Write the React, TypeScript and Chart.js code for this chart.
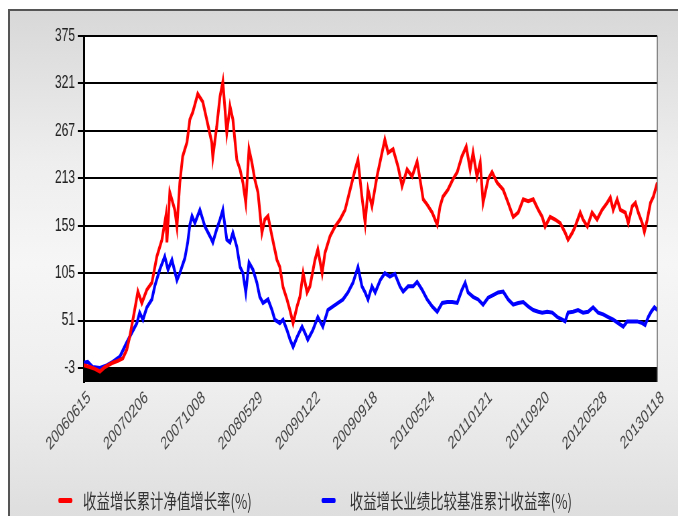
import React, { useEffect, useRef } from "react";
import { Chart, registerables } from "chart.js";

Chart.register(...registerables);

const xLabels = [
  "20060615", "20070206", "20071008", "20080529", "20090122", "20090918",
  "20100524", "20110121", "20110920", "20120528", "20130118",
];
const labelStep = 160; // trading days between two x labels
const yTicks = [-3, 51, 105, 159, 213, 267, 321, 375];
const seriesNames = ["收益增长累计净值增长率(%)", "收益增长业绩比较基准累计收益率(%)"];
const seriesColors = ["#ff0000", "#0000ff"];

const redDays = [
  0, 17, 31, 45, 59, 81, 95, 109, 120, 128,
  142, 151, 162, 176, 190, 204, 218, 229, 232, 240,
  254, 260, 268, 276, 288, 296, 304, 318, 332, 343,
  357, 360, 371, 380, 388, 399, 408, 416, 427, 436,
  444, 452, 461, 469, 477, 486, 497, 505, 514, 525,
  539, 547, 556, 567, 575, 584, 595, 603, 612, 623,
  631, 645, 653, 665, 673, 687, 701, 715, 729, 743,
  757, 765, 776, 785, 793, 804, 818, 832, 840, 849,
  863, 877, 888, 902, 916, 930, 938, 947, 958, 972,
  986, 994, 1002, 1016, 1030, 1042, 1055, 1067, 1078, 1086,
  1097, 1106, 1114, 1128, 1139, 1153, 1170, 1184, 1198, 1212,
  1226, 1240, 1254, 1268, 1279, 1287, 1301, 1315, 1329, 1343,
  1351, 1363, 1371, 1385, 1393, 1405, 1418, 1432, 1446, 1460,
  1469, 1477, 1488, 1497, 1511, 1519, 1530, 1539, 1547, 1558,
  1564, 1572, 1581, 1589, 1600,
];
const redValues = [
  0, -2, -4, -7, -2, 3, 5, 8, 18, 32,
  63, 84, 71, 86, 94, 124, 143, 170, 140, 197,
  177, 158, 208, 238, 254, 280, 288, 309, 300, 280,
  254, 237, 272, 306, 323, 265, 295, 280, 234, 223,
  208, 185, 246, 231, 212, 197, 151, 166, 170, 147,
  120, 112, 89, 75, 63, 48, 67, 78, 105, 83,
  90, 120, 132, 105, 128, 147, 158, 166, 177, 200,
  223, 234, 192, 162, 200, 181, 215, 242, 257, 242,
  246, 226, 204, 223, 215, 232, 212, 189, 183, 174,
  160, 181, 192, 200, 212, 220, 238, 249, 223, 242,
  215, 231, 185, 212, 220, 208, 200, 185, 169, 174,
  189, 187, 189, 177, 169, 158, 169, 166, 162, 151,
  143, 151, 158, 174, 166, 158, 174, 166, 177, 185,
  191, 177, 189, 177, 174, 162, 181, 185, 174, 162,
  152, 166, 185, 192, 208,
];

const blueDays = [
  0, 11, 25, 45, 64, 81, 101, 120, 134, 148,
  156, 165, 176, 190, 198, 212, 226, 235, 246, 260,
  268, 282, 290, 296, 302, 310, 324, 338, 352, 360,
  371, 380, 388, 399, 408, 416, 427, 436, 444, 452,
  461, 472, 483, 491, 500, 514, 525, 533, 547, 556,
  567, 575, 584, 595, 609, 617, 625, 639, 653, 667,
  681, 695, 709, 723, 737, 751, 765, 776, 785, 793,
  804, 813, 827, 840, 854, 868, 882, 891, 905, 919,
  930, 944, 958, 972, 986, 1000, 1014, 1028, 1042, 1055,
  1064, 1072, 1086, 1100, 1114, 1128, 1142, 1156, 1170, 1184,
  1198, 1212, 1226, 1240, 1254, 1268, 1279, 1293, 1307, 1321,
  1335, 1343, 1351, 1365, 1379, 1393, 1407, 1421, 1435, 1449,
  1463, 1477, 1491, 1505, 1516, 1530, 1544, 1558, 1566, 1575,
  1583, 1592, 1600,
];
const blueValues = [
  3, 4, -2, -3, 0, 4, 10, 26, 37, 48,
  60, 52, 66, 75, 90, 109, 124, 109, 120, 97,
  105, 122, 140, 160, 170, 162, 177, 158, 147, 140,
  155, 166, 177, 143, 140, 151, 135, 112, 105, 83,
  117, 109, 94, 78, 71, 75, 63, 52, 48, 52,
  40, 30, 21, 32, 44, 37, 29, 40, 55, 44,
  63, 67, 71, 75, 83, 94, 112, 90, 83, 75,
  90, 83, 97, 105, 101, 104, 90, 84, 90, 90,
  95, 86, 75, 67, 61, 71, 72, 72, 71, 86,
  94, 83, 78, 75, 69, 77, 80, 83, 84, 75,
  69, 71, 72, 67, 63, 61, 60, 61, 60, 55,
  52, 50, 60, 61, 63, 60, 61, 66, 60, 58,
  55, 52, 48, 44, 50, 50, 50, 48, 46, 55,
  61, 66, 63,
];

const SQUISH = 0.67;
const CW = 1012;
const CH = 516;
const tickFont = "'Liberation Sans', Arial, sans-serif";
const cjkFont = "'Noto Sans CJK SC', 'Noto Sans', sans-serif";

export default function App() {
  const ref = useRef<HTMLCanvasElement>(null);

  useEffect(() => {
    const canvas = ref.current;
    if (!canvas) return;
    const decor = {
      id: "decor",
      beforeDraw(chart: any) {
        const { ctx, chartArea: a } = chart;
        ctx.save();
        ctx.fillStyle = "#ffffff";
        ctx.fillRect(a.left, a.top, a.right - a.left, a.bottom - a.top);
        ctx.restore();
      },
      beforeDatasetsDraw(chart: any) {
        const { ctx, chartArea: a } = chart;
        const y = chart.scales.y.getPixelForValue(yTicks[0]);
        ctx.save();
        ctx.fillStyle = "#000000";
        ctx.fillRect(a.left, y, a.right - a.left, a.bottom - y);
        ctx.restore();
      },
      afterDatasetsDraw(chart: any) {
        const { ctx, chartArea: a } = chart;
        ctx.save();
        ctx.strokeStyle = "#666666";
        ctx.lineWidth = 1.5;
        ctx.beginPath();
        ctx.moveTo(a.right, a.top);
        ctx.lineTo(a.right, a.bottom);
        ctx.stroke();
        ctx.restore();
      },
    };

    const chart = new Chart(canvas, {
      type: "line",
      data: {
        datasets: [
          {
            label: seriesNames[0],
            data: redDays.map((d, i) => ({ x: d, y: redValues[i] })),
            borderColor: seriesColors[0],
            backgroundColor: seriesColors[0],
            borderWidth: 4,
            pointRadius: 0,
            tension: 0,
          },
          {
            label: seriesNames[1],
            data: blueDays.map((d, i) => ({ x: d, y: blueValues[i] })),
            borderColor: seriesColors[1],
            backgroundColor: seriesColors[1],
            borderWidth: 4,
            pointRadius: 0,
            tension: 0,
          },
        ],
      },
      options: {
        responsive: false,
        animation: false,
        devicePixelRatio: 1,
        layout: { padding: { left: 0, top: 36, right: 31, bottom: 0 } },
        plugins: {
          legend: { display: false },
          tooltip: { enabled: false },
          title: { display: false },
        },
        scales: {
          x: {
            type: "linear",
            min: 0,
            max: labelStep * (xLabels.length - 1),
            bounds: "data",
            afterBuildTicks: (s: any) => {
              s.ticks = xLabels.map((_, i) => ({ value: i * labelStep }));
            },
            afterFit: (s: any) => {
              s.height = 134;
            },
            grid: { display: false, drawTicks: false },
            border: { display: false },
            ticks: {
              autoSkip: false,
              minRotation: 40,
              maxRotation: 40,
              color: "#444444",
              padding: 5,
              labelOffset: 8,
              font: { family: tickFont, size: 18 },
              callback: (v: any) => xLabels[Math.round(Number(v) / labelStep)],
            },
          },
          y: {
            type: "linear",
            min: -19,
            max: yTicks[yTicks.length - 1],
            bounds: "data",
            afterBuildTicks: (s: any) => {
              s.ticks = yTicks.map((v) => ({ value: v }));
            },
            afterFit: (s: any) => {
              s.width = 125;
            },
            grid: { color: "#000000", lineWidth: 2, tickLength: 9 },
            border: { display: true, color: "#000000", width: 3 },
            ticks: {
              autoSkip: false,
              color: "#222222",
              padding: 4,
              font: { family: tickFont, size: 18 },
              callback: (v: any) => String(v),
            },
          },
        },
      },
      plugins: [decor],
    } as any);
    return () => chart.destroy();
  }, []);

  const legendItem = (i: number, swatchLeft: number, textLeft: number) => (
    <React.Fragment key={i}>
      <div
        style={{
          position: "absolute",
          left: swatchLeft,
          top: 498,
          width: 21,
          height: 5,
          borderRadius: 2,
          background: seriesColors[i],
        }}
      />
      <div
        style={{
          position: "absolute",
          left: textLeft,
          top: 489,
          fontFamily: cjkFont,
          fontSize: 20,
          lineHeight: "24px",
          color: "#333333",
          whiteSpace: "nowrap",
        }}
      >
        {seriesNames[i]}
      </div>
    </React.Fragment>
  );

  return (
    <div
      style={{
        position: "absolute",
        left: 0,
        top: 0,
        width: 678,
        height: 516,
        overflow: "hidden",
        background: "#ffffff",
      }}
    >
      <div
        style={{
          position: "absolute",
          left: 8,
          top: 9,
          width: 670,
          height: 507,
          boxSizing: "border-box",
          borderTop: "2px solid #555555",
          borderLeft: "2px solid #555555",
          background:
            "linear-gradient(to bottom, #d8d8d8 0%, #eeeeee 30%, #f6f6f6 50%, #eeeeee 75%, #dedede 100%)",
        }}
      />
      <div
        style={{
          position: "absolute",
          left: 0,
          top: 0,
          width: CW,
          height: CH,
          transform: `scaleX(${SQUISH})`,
          transformOrigin: "0 0",
        }}
      >
        <canvas
          ref={ref}
          width={CW}
          height={CH}
          style={{ position: "absolute", left: 0, top: 0, width: CW, height: CH }}
        />
        {legendItem(0, 87, 124)}
        {legendItem(1, 480, 522)}
      </div>
    </div>
  );
}
